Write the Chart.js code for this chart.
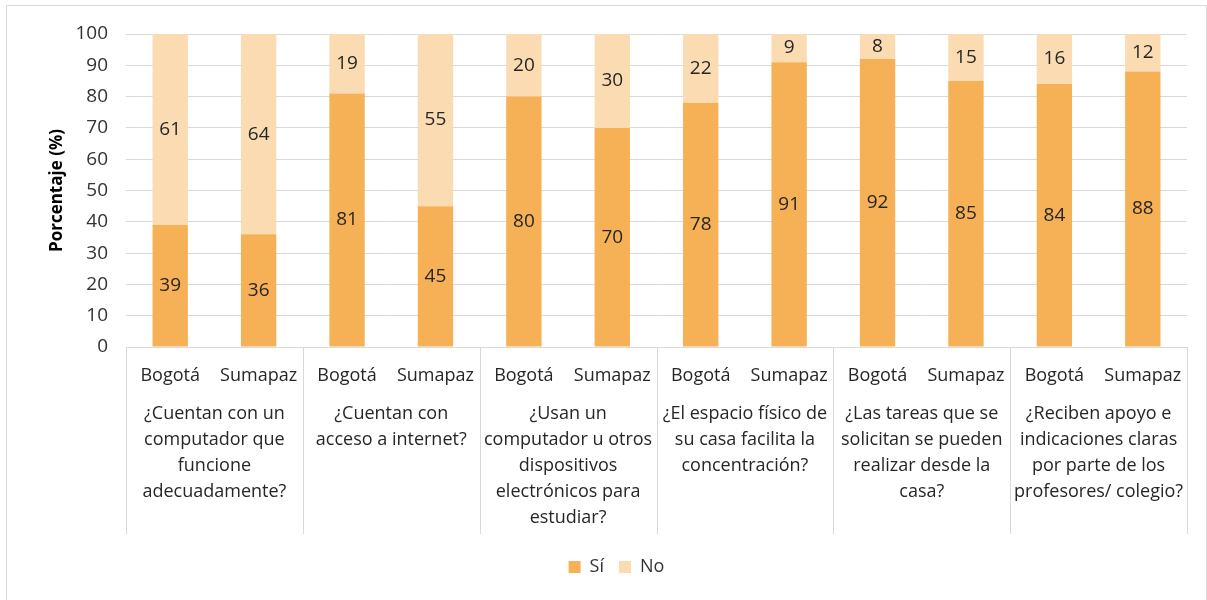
<!DOCTYPE html>
<html>
<head>
<meta charset="utf-8">
<script src="https://cdn.jsdelivr.net/npm/chart.js@4/dist/chart.umd.min.js"></script>
<style>
  body { margin: 0; background: #fff; }
</style>
</head>
<body>
<canvas id="chart" width="1207" height="600"></canvas>
<script>
// data
var regions = ["Bogotá", "Sumapaz"];
var questions = [
  ["¿Cuentan con un", "computador que", "funcione", "adecuadamente?"],
  ["¿Cuentan con", "acceso a internet?"],
  ["¿Usan un", "computador u otros", "dispositivos", "electrónicos para", "estudiar?"],
  ["¿El espacio físico de", "su casa facilita la", "concentración?"],
  ["¿Las tareas que se", "solicitan se pueden", "realizar desde la", "casa?"],
  ["¿Reciben apoyo e", "indicaciones claras", "por parte de los", "profesores/ colegio?"]
];
var siValues = [39, 36, 81, 45, 80, 70, 78, 91, 92, 85, 84, 88];
var noValues = [61, 64, 19, 55, 20, 30, 22, 9, 8, 15, 16, 12];

var labels = [];
questions.forEach(function (q) {
  regions.forEach(function (r) { labels.push(r); });
});

Chart.defaults.font.family = "'Open Sans', sans-serif";
Chart.defaults.font.size = 18;
Chart.defaults.color = "#333333";

var axisHeight = 187;

// frame around chart
var framePlugin = {
  id: "frame",
  beforeDraw: function (chart) {
    var c = chart.ctx;
    c.save();
    c.fillStyle = "#fff";
    c.fillRect(0, 0, chart.width, chart.height);
    c.strokeStyle = "#d9d9d9";
    c.lineWidth = 1;
    c.strokeRect(6.5, 5.5, chart.width - 7, chart.height);
    c.restore();
  }
};

// nudge legend to the right like the original
var legendShift = {
  id: "legendShift",
  afterLayout: function (chart) {
    if (chart.legend) {
      chart.legend.left += 23;
      chart.legend.right += 23;
    }
  }
};

// values inside segments
var valuePlugin = {
  id: "values",
  afterDatasetsDraw: function (chart) {
    var c = chart.ctx;
    c.save();
    c.font = "19px 'Open Sans', sans-serif";
    c.fillStyle = "#262626";
    c.textAlign = "center";
    c.textBaseline = "middle";
    chart.data.datasets.forEach(function (ds, di) {
      chart.getDatasetMeta(di).data.forEach(function (bar, i) {
        var y = (bar.y + bar.base) / 2;
        c.fillText(ds.data[i], bar.x, y);
      });
    });
    c.restore();
  }
};

// two-level category axis
var groupAxisPlugin = {
  id: "groupAxis",
  afterDraw: function (chart) {
    var x = chart.scales.x;
    var c = chart.ctx;
    var top = chart.chartArea.bottom;
    var groupW = (x.right - x.left) / questions.length;
    c.save();
    c.strokeStyle = "#d9d9d9";
    c.lineWidth = 1;
    for (var g = 0; g <= questions.length; g++) {
      var gx = Math.round(x.left + g * groupW) + 0.5;
      c.beginPath();
      c.moveTo(gx, top);
      c.lineTo(gx, top + axisHeight);
      c.stroke();
    }
    c.fillStyle = "#262626";
    c.font = "18px 'Open Sans', sans-serif";
    c.textAlign = "center";
    c.textBaseline = "middle";
    labels.forEach(function (l, i) {
      c.fillText(l, x.getPixelForValue(i), top + 29);
    });
    questions.forEach(function (lines, g) {
      var cx = (x.getPixelForValue(2 * g) + x.getPixelForValue(2 * g + 1)) / 2;
      lines.forEach(function (line, k) {
        c.fillText(line, cx, top + 67 + k * 26);
      });
    });
    c.restore();
  }
};

var ctx = document.getElementById("chart").getContext("2d");
var chart = new Chart(ctx, {
  type: "bar",
  data: {
    labels: labels,
    datasets: [
      {
        label: "Sí",
        data: siValues,
        backgroundColor: "#F6B055",
        categoryPercentage: 1,
        barPercentage: 0.4
      },
      {
        label: "No",
        data: noValues,
        backgroundColor: "#FBDCB2",
        categoryPercentage: 1,
        barPercentage: 0.4
      }
    ]
  },
  options: {
    responsive: false,
    animation: false,
    layout: {
      padding: { left: 0, right: 20, top: 34, bottom: 14 }
    },
    plugins: {
      legend: {
        position: "bottom",
        labels: {
          boxWidth: 12,
          boxHeight: 12,
          padding: 15,
          color: "#333333",
          font: { size: 18 }
        }
      },
      tooltip: { enabled: false }
    },
    scales: {
      x: {
        stacked: true,
        grid: { display: false },
        border: { color: "#d9d9d9" },
        ticks: { display: false },
        afterFit: function (scale) { scale.height = 196; }
      },
      y: {
        stacked: true,
        min: 0,
        max: 100,
        border: { display: false },
        grid: { color: "#d9d9d9", drawTicks: false },
        ticks: {
          stepSize: 10,
          padding: 18,
          color: "#333333",
          font: { size: 19 }
        },
        title: {
          display: true,
          text: "Porcentaje (%)",
          color: "#000000",
          font: { size: 17, weight: "bold" },
          padding: { top: 47, bottom: 0 }
        },
        afterFit: function (scale) { scale.width = 126; }
      }
    }
  },
  plugins: [framePlugin, legendShift, valuePlugin, groupAxisPlugin]
});
</script>
</body>
</html>
